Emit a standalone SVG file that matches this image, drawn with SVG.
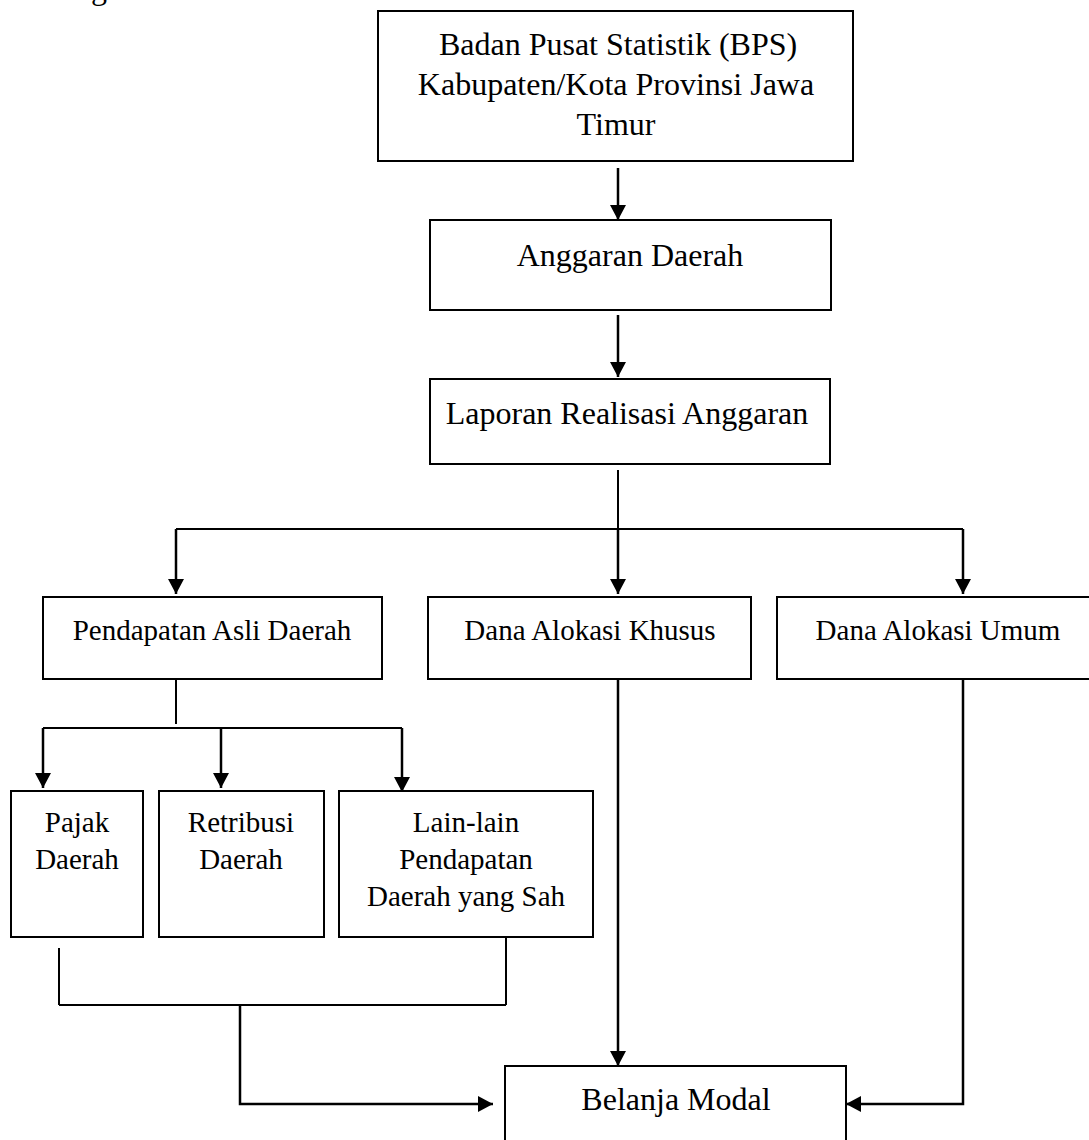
<svg xmlns="http://www.w3.org/2000/svg" width="1089" height="1140" viewBox="0 0 1089 1140">
<style>
.box{fill:#fff;stroke:#000;stroke-width:2}
.t{font-family:"Liberation Serif","Times New Roman",serif;fill:#000;text-anchor:middle}
.big{font-size:32px}
.sm{font-size:29px}
.c{fill:none;stroke:#000;stroke-width:2}
.a{fill:none;stroke:#000;stroke-width:2.5}
</style>
<defs>
<marker id="ah" viewBox="0 0 15 16" refX="15" refY="8" markerWidth="15" markerHeight="16" markerUnits="userSpaceOnUse" orient="auto">
<path d="M0,0 L15,8 L0,16 z" fill="#000"/>
</marker>
</defs>
<rect width="1089" height="1140" fill="#fff"/>
<text class="t big" x="91" y="-1" style="text-anchor:start">g</text>

<g id="connectors">
<path class="a" d="M618,168 V220" marker-end="url(#ah)"/>
<path class="a" d="M618,315 V377" marker-end="url(#ah)"/>
<path class="c" d="M618,470 V529 M176,529 H963"/>
<path class="a" d="M176,529 V594" marker-end="url(#ah)"/>
<path class="a" d="M618,529 V594" marker-end="url(#ah)"/>
<path class="a" d="M963,529 V594" marker-end="url(#ah)"/>
<path class="c" d="M176,680 V724 M43,728 H402"/>
<path class="a" d="M43,728 V788" marker-end="url(#ah)"/>
<path class="a" d="M221,728 V788" marker-end="url(#ah)"/>
<path class="a" d="M402,728 V792" marker-end="url(#ah)"/>
<path class="c" d="M59,948 V1005 M506,928 V1005 M59,1005 H506"/>
<path class="a" d="M240,1005 V1104 H493" marker-end="url(#ah)"/>
<path class="a" d="M618,679 V1066" marker-end="url(#ah)"/>
<path class="a" d="M963,679 V1104 H846" marker-end="url(#ah)"/>
</g>

<g id="bps">
<rect class="box" x="378" y="11" width="475" height="150"/>
<text class="t big" x="618" y="55">Badan Pusat Statistik (BPS)</text>
<text class="t big" x="616" y="95">Kabupaten/Kota Provinsi Jawa</text>
<text class="t big" x="616" y="135">Timur</text>
</g>
<g id="anggaran">
<rect class="box" x="430" y="220" width="401" height="90"/>
<text class="t big" x="630" y="266">Anggaran Daerah</text>
</g>
<g id="lra">
<rect class="box" x="430" y="379" width="400" height="85"/>
<text class="t big" x="627" y="424">Laporan Realisasi Anggaran</text>
</g>
<g id="pad">
<rect class="box" x="43" y="597" width="339" height="82"/>
<text class="t sm" x="212" y="640">Pendapatan Asli Daerah</text>
</g>
<g id="dak">
<rect class="box" x="428" y="597" width="323" height="82"/>
<text class="t sm" x="590" y="640">Dana Alokasi Khusus</text>
</g>
<g id="dau">
<rect class="box" x="777" y="597" width="330" height="82"/>
<text class="t sm" x="938" y="640">Dana Alokasi Umum</text>
</g>
<g id="pajak">
<rect class="box" x="11" y="791" width="132" height="146"/>
<text class="t sm" x="77" y="832">Pajak</text>
<text class="t sm" x="77" y="869">Daerah</text>
</g>
<g id="retribusi">
<rect class="box" x="159" y="791" width="165" height="146"/>
<text class="t sm" x="241" y="832">Retribusi</text>
<text class="t sm" x="241" y="869">Daerah</text>
</g>
<g id="lainlain">
<rect class="box" x="339" y="791" width="254" height="146"/>
<text class="t sm" x="466" y="832">Lain-lain</text>
<text class="t sm" x="466" y="869">Pendapatan</text>
<text class="t sm" x="466" y="906">Daerah yang Sah</text>
</g>
<g id="belanja">
<rect class="box" x="505" y="1066" width="341" height="90"/>
<text class="t big" x="676" y="1110">Belanja Modal</text>
</g>
</svg>
